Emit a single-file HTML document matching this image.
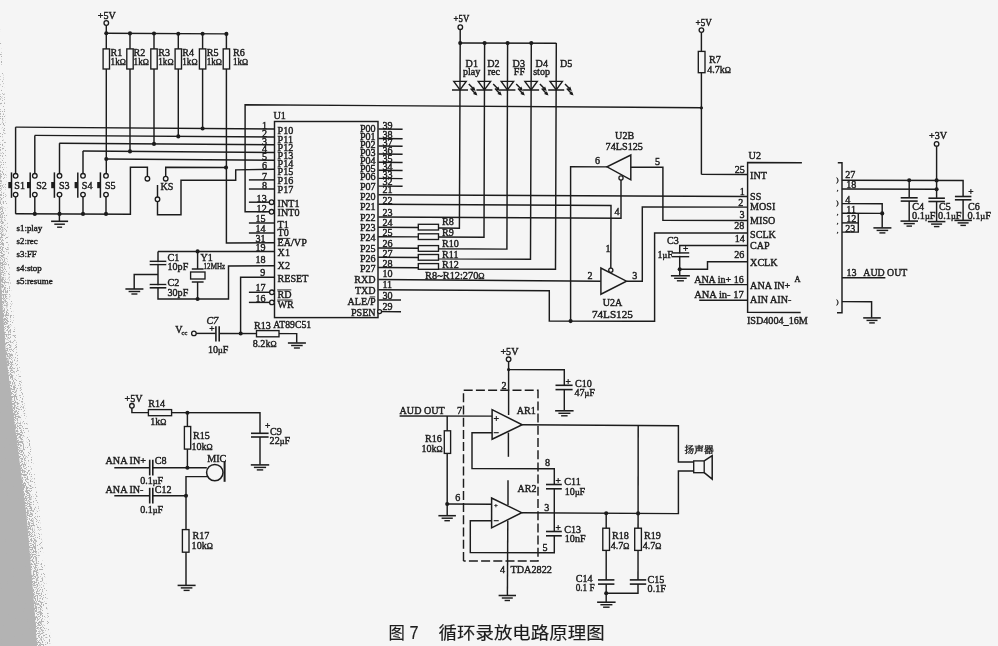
<!DOCTYPE html>
<html lang="zh">
<head>
<meta charset="utf-8">
<title>图7 循环录放电路原理图</title>
<style>
html,body{margin:0;padding:0;background:#f5f5f5;}
body{width:998px;height:646px;overflow:hidden;}
svg{display:block;}
svg text{font-family:"Liberation Serif","Noto Serif CJK SC",serif;fill:#1c1c1c;stroke:#1c1c1c;stroke-width:0.42px;}
</style>
</head>
<body>
<svg width="998" height="646" viewBox="0 0 998 646">
<defs>
<filter id="spk" x="0" y="0" width="100%" height="100%">
<feTurbulence type="fractalNoise" baseFrequency="0.9" numOctaves="2" seed="7" result="n"/>
<feColorMatrix in="n" type="matrix" values="0 0 0 0 0  0 0 0 0 0  0 0 0 0 0  0 0 0 14 -6.9" result="m"/>
<feComposite in="SourceGraphic" in2="m" operator="in"/>
</filter>
<filter id="spk2" x="0" y="0" width="100%" height="100%">
<feTurbulence type="fractalNoise" baseFrequency="0.85" numOctaves="2" seed="23" result="n"/>
<feColorMatrix in="n" type="matrix" values="0 0 0 0 0  0 0 0 0 0  0 0 0 0 0  0 0 0 14 -8.3" result="m"/>
<feComposite in="SourceGraphic" in2="m" operator="in"/>
</filter>
<linearGradient id="edge" x1="0" y1="0" x2="1" y2="0">
<stop offset="0" stop-color="#b2b2b2"/><stop offset="0.75" stop-color="#b2b2b2"/><stop offset="1" stop-color="#b2b2b2" stop-opacity="0"/>
</linearGradient>
</defs>
<rect width="998" height="646" fill="#f5f5f5"/>
<!-- scan shadow on left edge -->
<polygon points="0,255 2,300 6,354 12.5,407 19.5,461 26.5,515 31,568 34.5,610 37,646 0,646" fill="#b3b3b3"/>
<polygon points="0,150 3,220 5,270 8,310 12,354 18.5,407 26,461 33,515 38,568 41.5,610 44,646 0,646" fill="#b3b3b3" filter="url(#spk)"/>
<polygon points="0,28 5,100 7,200 9,260 13,310 18,354 25,407 33,461 40,515 45,568 48.5,610 51,646 0,646" fill="#b3b3b3" filter="url(#spk2)"/>
<g opacity="0.999">
<text font-size="10.3" transform="translate(97.8,18.5) scale(0.98,1)">+5V</text>
<polyline points="106.3,25.0 106.3,173.5" fill="none" stroke="#1c1c1c" stroke-width="1.45" />
<circle cx="106.3" cy="23.0" r="2.3" fill="#f5f5f5" stroke="#1c1c1c" stroke-width="1.3"/>
<polyline points="106.3,33.3 226.4,33.9" fill="none" stroke="#1c1c1c" stroke-width="1.45" />
<polyline points="15.5,127.1 274.5,129.0" fill="none" stroke="#1c1c1c" stroke-width="1.45" />
<polyline points="34.7,135.4 274.5,137.0" fill="none" stroke="#1c1c1c" stroke-width="1.45" />
<polyline points="59.3,143.2 274.5,144.8" fill="none" stroke="#1c1c1c" stroke-width="1.45" />
<polyline points="82.9,151.0 274.5,152.5" fill="none" stroke="#1c1c1c" stroke-width="1.45" />
<polyline points="106.3,159.0 274.5,160.3" fill="none" stroke="#1c1c1c" stroke-width="1.45" />
<polyline points="130.0,33.4 130.0,151.4" fill="none" stroke="#1c1c1c" stroke-width="1.45" />
<circle cx="130.0" cy="151.4" r="2.05" fill="#1c1c1c"/>
<polyline points="154.0,33.4 154.0,143.9" fill="none" stroke="#1c1c1c" stroke-width="1.45" />
<circle cx="154.0" cy="143.9" r="2.05" fill="#1c1c1c"/>
<polyline points="178.3,33.4 178.3,136.4" fill="none" stroke="#1c1c1c" stroke-width="1.45" />
<circle cx="178.3" cy="136.4" r="2.05" fill="#1c1c1c"/>
<polyline points="202.6,33.4 202.6,128.5" fill="none" stroke="#1c1c1c" stroke-width="1.45" />
<circle cx="202.6" cy="128.5" r="2.05" fill="#1c1c1c"/>
<polyline points="226.4,33.9 226.4,243.0 274.5,242.7" fill="none" stroke="#1c1c1c" stroke-width="1.45" />
<circle cx="106.3" cy="33.3" r="2.05" fill="#1c1c1c"/>
<rect x="103.1" y="48.9" width="6.4" height="20.1" fill="#f5f5f5" stroke="#1c1c1c" stroke-width="1.35"/>
<circle cx="130.0" cy="33.4" r="2.05" fill="#1c1c1c"/>
<rect x="126.8" y="48.9" width="6.4" height="20.1" fill="#f5f5f5" stroke="#1c1c1c" stroke-width="1.35"/>
<circle cx="154.0" cy="33.5" r="2.05" fill="#1c1c1c"/>
<rect x="150.8" y="48.9" width="6.4" height="20.1" fill="#f5f5f5" stroke="#1c1c1c" stroke-width="1.35"/>
<circle cx="178.3" cy="33.7" r="2.05" fill="#1c1c1c"/>
<rect x="175.1" y="48.9" width="6.4" height="20.1" fill="#f5f5f5" stroke="#1c1c1c" stroke-width="1.35"/>
<circle cx="202.6" cy="33.8" r="2.05" fill="#1c1c1c"/>
<rect x="199.4" y="48.9" width="6.4" height="20.1" fill="#f5f5f5" stroke="#1c1c1c" stroke-width="1.35"/>
<circle cx="226.4" cy="33.9" r="2.05" fill="#1c1c1c"/>
<rect x="223.2" y="48.9" width="6.4" height="20.1" fill="#f5f5f5" stroke="#1c1c1c" stroke-width="1.35"/>
<text font-size="10.3" transform="translate(110.6,56.1) scale(0.98,1)">R1</text>
<text font-size="9.3" transform="translate(110.6,64.9) scale(0.98,1)">1k<tspan font-size="8.4">Ω</tspan></text>
<text font-size="10.3" transform="translate(133.6,56.1) scale(0.98,1)">R2</text>
<text font-size="9.3" transform="translate(133.6,64.9) scale(0.98,1)">1k<tspan font-size="8.4">Ω</tspan></text>
<text font-size="10.3" transform="translate(158.3,56.1) scale(0.98,1)">R3</text>
<text font-size="9.3" transform="translate(158.3,64.9) scale(0.98,1)">1k<tspan font-size="8.4">Ω</tspan></text>
<text font-size="10.3" transform="translate(182.3,56.1) scale(0.98,1)">R4</text>
<text font-size="9.3" transform="translate(182.3,64.9) scale(0.98,1)">1k<tspan font-size="8.4">Ω</tspan></text>
<text font-size="10.3" transform="translate(206.7,56.1) scale(0.98,1)">R5</text>
<text font-size="9.3" transform="translate(206.7,64.9) scale(0.98,1)">1k<tspan font-size="8.4">Ω</tspan></text>
<text font-size="10.3" transform="translate(233.0,56.1) scale(0.98,1)">R6</text>
<text font-size="9.3" transform="translate(233.0,64.9) scale(0.98,1)">1k<tspan font-size="8.4">Ω</tspan></text>
<circle cx="106.3" cy="159.0" r="2.05" fill="#1c1c1c"/>
<polyline points="15.6,127.1 15.6,173.5" fill="none" stroke="#1c1c1c" stroke-width="1.45" />
<polyline points="15.6,196.8 15.6,213.8" fill="none" stroke="#1c1c1c" stroke-width="1.45" />
<circle cx="15.6" cy="175.8" r="2.3" fill="#f5f5f5" stroke="#1c1c1c" stroke-width="1.3"/>
<circle cx="15.6" cy="194.6" r="2.3" fill="#f5f5f5" stroke="#1c1c1c" stroke-width="1.3"/>
<polyline points="11.5,172.4 11.5,197.8" fill="none" stroke="#1c1c1c" stroke-width="1.5" />
<rect x="8.3" y="182.0" width="3.2" height="6.2" fill="#1c1c1c"/>
<text font-size="10.3" transform="translate(14.3,189.3) scale(0.98,1)">S1</text>
<polyline points="34.8,135.4 34.8,173.5" fill="none" stroke="#1c1c1c" stroke-width="1.45" />
<polyline points="34.8,196.8 34.8,213.8" fill="none" stroke="#1c1c1c" stroke-width="1.45" />
<circle cx="34.8" cy="175.8" r="2.3" fill="#f5f5f5" stroke="#1c1c1c" stroke-width="1.3"/>
<circle cx="34.8" cy="194.6" r="2.3" fill="#f5f5f5" stroke="#1c1c1c" stroke-width="1.3"/>
<polyline points="30.2,172.4 30.2,197.8" fill="none" stroke="#1c1c1c" stroke-width="1.5" />
<rect x="27.0" y="182.0" width="3.2" height="6.2" fill="#1c1c1c"/>
<text font-size="10.3" transform="translate(36.2,189.3) scale(0.98,1)">S2</text>
<polyline points="59.5,143.2 59.5,173.5" fill="none" stroke="#1c1c1c" stroke-width="1.45" />
<polyline points="59.5,196.8 59.5,213.8" fill="none" stroke="#1c1c1c" stroke-width="1.45" />
<circle cx="59.5" cy="175.8" r="2.3" fill="#f5f5f5" stroke="#1c1c1c" stroke-width="1.3"/>
<circle cx="59.5" cy="194.6" r="2.3" fill="#f5f5f5" stroke="#1c1c1c" stroke-width="1.3"/>
<polyline points="54.4,172.4 54.4,197.8" fill="none" stroke="#1c1c1c" stroke-width="1.5" />
<rect x="51.2" y="182.0" width="3.2" height="6.2" fill="#1c1c1c"/>
<text font-size="10.3" transform="translate(58.9,189.3) scale(0.98,1)">S3</text>
<polyline points="83.0,151.0 83.0,173.5" fill="none" stroke="#1c1c1c" stroke-width="1.45" />
<polyline points="83.0,196.8 83.0,213.8" fill="none" stroke="#1c1c1c" stroke-width="1.45" />
<circle cx="83.0" cy="175.8" r="2.3" fill="#f5f5f5" stroke="#1c1c1c" stroke-width="1.3"/>
<circle cx="83.0" cy="194.6" r="2.3" fill="#f5f5f5" stroke="#1c1c1c" stroke-width="1.3"/>
<polyline points="77.8,172.4 77.8,197.8" fill="none" stroke="#1c1c1c" stroke-width="1.5" />
<rect x="74.6" y="182.0" width="3.2" height="6.2" fill="#1c1c1c"/>
<text font-size="10.3" transform="translate(81.8,189.3) scale(0.98,1)">S4</text>
<polyline points="106.0,196.8 106.0,213.8" fill="none" stroke="#1c1c1c" stroke-width="1.45" />
<circle cx="106.0" cy="175.8" r="2.3" fill="#f5f5f5" stroke="#1c1c1c" stroke-width="1.3"/>
<circle cx="106.0" cy="194.6" r="2.3" fill="#f5f5f5" stroke="#1c1c1c" stroke-width="1.3"/>
<polyline points="100.4,172.4 100.4,197.8" fill="none" stroke="#1c1c1c" stroke-width="1.5" />
<rect x="97.2" y="182.0" width="3.2" height="6.2" fill="#1c1c1c"/>
<text font-size="10.3" transform="translate(104.9,189.3) scale(0.98,1)">S5</text>
<polyline points="15.5,213.8 130.4,214.2 130.4,167.2 147.4,167.2 147.4,176.5" fill="none" stroke="#1c1c1c" stroke-width="1.45" />
<circle cx="34.8" cy="213.9" r="2.05" fill="#1c1c1c"/>
<circle cx="59.5" cy="213.9" r="2.05" fill="#1c1c1c"/>
<circle cx="83.0" cy="213.9" r="2.05" fill="#1c1c1c"/>
<circle cx="106.0" cy="213.9" r="2.05" fill="#1c1c1c"/>
<polyline points="59.4,214.0 59.4,221.2" fill="none" stroke="#1c1c1c" stroke-width="1.45" />
<polyline points="51.1,221.3 68.1,221.3" fill="none" stroke="#1c1c1c" stroke-width="1.55" />
<polyline points="54.3,224.2 64.9,224.2" fill="none" stroke="#1c1c1c" stroke-width="1.45" />
<polyline points="57.1,227.2 62.1,227.2" fill="none" stroke="#1c1c1c" stroke-width="1.4" />
<circle cx="147.4" cy="178.7" r="2.3" fill="#f5f5f5" stroke="#1c1c1c" stroke-width="1.3"/>
<polyline points="165.7,176.5 165.7,167.3 225.9,167.5" fill="none" stroke="#1c1c1c" stroke-width="1.45" />
<circle cx="165.7" cy="178.7" r="2.3" fill="#f5f5f5" stroke="#1c1c1c" stroke-width="1.3"/>
<circle cx="226.0" cy="167.5" r="2.05" fill="#1c1c1c"/>
<polyline points="157.5,185.0 157.5,197.2" fill="none" stroke="#1c1c1c" stroke-width="1.45" />
<polyline points="157.5,201.5 157.5,214.8 181.0,214.8 181.0,180.2 235.7,180.2 235.7,169.9 274.5,169.2" fill="none" stroke="#1c1c1c" stroke-width="1.45" />
<circle cx="157.5" cy="199.3" r="2.3" fill="#f5f5f5" stroke="#1c1c1c" stroke-width="1.3"/>
<text font-size="10.3" transform="translate(160.5,189.8) scale(0.98,1)">KS</text>
<text font-size="9.1" transform="translate(16.5,230.9) scale(0.98,1)">s1:play</text>
<text font-size="9.1" transform="translate(16.5,244.2) scale(0.98,1)">s2:rec</text>
<text font-size="9.1" transform="translate(16.5,257.4) scale(0.98,1)">s3:FF</text>
<text font-size="9.1" transform="translate(16.5,270.7) scale(0.98,1)">s4:stop</text>
<text font-size="9.1" transform="translate(16.5,283.9) scale(0.98,1)">s5:resume</text>
<rect x="274.5" y="121.5" width="103.5" height="196.1" fill="none" stroke="#1c1c1c" stroke-width="1.45"/>
<text font-size="10.3" transform="translate(273.5,118.7) scale(0.98,1)">U1</text>
<text font-size="10.3" x="273.3" y="327.6" textLength="37.8" lengthAdjust="spacingAndGlyphs">AT89C51</text>
<polyline points="248.9,179.9 274.5,179.9" fill="none" stroke="#1c1c1c" stroke-width="1.45" />
<polyline points="248.9,189.0 274.5,189.0" fill="none" stroke="#1c1c1c" stroke-width="1.45" />
<polyline points="248.9,223.0 274.5,223.0" fill="none" stroke="#1c1c1c" stroke-width="1.45" />
<polyline points="248.9,233.0 274.5,233.0" fill="none" stroke="#1c1c1c" stroke-width="1.45" />
<polyline points="248.9,202.2 269.3,202.2" fill="none" stroke="#1c1c1c" stroke-width="1.45" />
<circle cx="271.6" cy="202.2" r="2.3" fill="#f5f5f5" stroke="#1c1c1c" stroke-width="1.3"/>
<polyline points="701.4,107.8 245.1,104.7 245.1,211.8 269.3,211.8" fill="none" stroke="#1c1c1c" stroke-width="1.45" />
<circle cx="271.6" cy="211.8" r="2.3" fill="#f5f5f5" stroke="#1c1c1c" stroke-width="1.3"/>
<polyline points="248.9,292.3 269.6,292.3" fill="none" stroke="#1c1c1c" stroke-width="1.45" />
<circle cx="271.9" cy="292.3" r="2.3" fill="#f5f5f5" stroke="#1c1c1c" stroke-width="1.3"/>
<polyline points="248.9,302.4 269.6,302.4" fill="none" stroke="#1c1c1c" stroke-width="1.45" />
<circle cx="271.9" cy="302.4" r="2.3" fill="#f5f5f5" stroke="#1c1c1c" stroke-width="1.3"/>
<polyline points="158.0,251.4 274.5,251.5" fill="none" stroke="#1c1c1c" stroke-width="1.45" />
<polyline points="274.5,265.8 228.5,265.9 228.5,299.0 158.0,299.0 158.0,251.4" fill="none" stroke="#1c1c1c" stroke-width="1.45" />
<polyline points="274.5,277.3 240.6,277.3 240.6,333.5" fill="none" stroke="#1c1c1c" stroke-width="1.45" />
<text font-size="10.3" transform="translate(277.6,134.3) scale(0.98,1)">P10</text>
<text font-size="10.3" transform="translate(277.6,142.5) scale(0.98,1)">P11</text>
<text font-size="10.3" transform="translate(277.6,150.5) scale(0.98,1)">P12</text>
<text font-size="10.3" transform="translate(277.6,158.5) scale(0.98,1)">P13</text>
<text font-size="10.3" transform="translate(277.6,166.8) scale(0.98,1)">P14</text>
<text font-size="10.3" transform="translate(277.6,174.9) scale(0.98,1)">P15</text>
<text font-size="10.3" transform="translate(277.6,183.8) scale(0.98,1)">P16</text>
<text font-size="10.3" transform="translate(277.6,193.1) scale(0.98,1)">P17</text>
<text font-size="10.3" transform="translate(277.6,206.5) scale(0.98,1)">INT1</text>
<text font-size="10.3" transform="translate(277.6,215.9) scale(0.98,1)">INT0</text>
<text font-size="10.3" transform="translate(277.6,227.8) scale(0.98,1)">T1</text>
<text font-size="10.3" transform="translate(277.6,236.3) scale(0.98,1)">T0</text>
<text font-size="10.3" transform="translate(277.6,246.2) scale(0.98,1)">EA/VP</text>
<text font-size="10.3" transform="translate(277.6,255.5) scale(0.98,1)">X1</text>
<text font-size="10.3" transform="translate(277.6,269.3) scale(0.98,1)">X2</text>
<text font-size="10.3" transform="translate(277.6,281.9) scale(0.98,1)">RESET</text>
<text font-size="10.3" transform="translate(277.6,298.1) scale(0.98,1)">RD</text>
<text font-size="10.3" transform="translate(277.6,307.7) scale(0.98,1)">WR</text>
<polyline points="277.8,238.4 290.3,238.4" fill="none" stroke="#1c1c1c" stroke-width="0.9" />
<polyline points="277.2,289.9 291.3,289.9" fill="none" stroke="#1c1c1c" stroke-width="0.9" />
<polyline points="277.2,300.0 292.5,300.0" fill="none" stroke="#1c1c1c" stroke-width="0.9" />
<text font-size="10.3" transform="translate(262.1,128.8) scale(0.98,1)">1</text>
<text font-size="10.3" transform="translate(262.1,136.9) scale(0.98,1)">2</text>
<text font-size="10.3" transform="translate(262.1,144.7) scale(0.98,1)">3</text>
<text font-size="10.3" transform="translate(262.1,152.4) scale(0.98,1)">4</text>
<text font-size="10.3" transform="translate(262.1,160.2) scale(0.98,1)">5</text>
<text font-size="10.3" transform="translate(262.1,168.9) scale(0.98,1)">6</text>
<text font-size="10.3" transform="translate(262.1,179.8) scale(0.98,1)">7</text>
<text font-size="10.3" transform="translate(262.1,188.9) scale(0.98,1)">8</text>
<text font-size="10.3" transform="translate(256.6,202.0) scale(0.98,1)">13</text>
<text font-size="10.3" transform="translate(256.6,211.7) scale(0.98,1)">12</text>
<text font-size="10.3" transform="translate(255.4,222.0) scale(0.98,1)">15</text>
<text font-size="10.3" transform="translate(255.4,232.0) scale(0.98,1)">14</text>
<text font-size="10.3" transform="translate(255.4,241.9) scale(0.98,1)">31</text>
<text font-size="10.3" transform="translate(255.4,250.9) scale(0.98,1)">19</text>
<text font-size="10.3" transform="translate(255.4,263.4) scale(0.98,1)">18</text>
<text font-size="10.3" transform="translate(260.3,276.4) scale(0.98,1)">9</text>
<text font-size="10.3" transform="translate(255.4,290.7) scale(0.98,1)">17</text>
<text font-size="10.3" transform="translate(255.4,301.9) scale(0.98,1)">16</text>
<polyline points="378.5,129.0 402.6,129.2" fill="none" stroke="#1c1c1c" stroke-width="1.45" />
<polyline points="378.5,138.5 402.6,138.7" fill="none" stroke="#1c1c1c" stroke-width="1.45" />
<polyline points="378.5,146.0 402.6,146.2" fill="none" stroke="#1c1c1c" stroke-width="1.45" />
<polyline points="378.5,154.0 402.6,154.2" fill="none" stroke="#1c1c1c" stroke-width="1.45" />
<polyline points="378.5,162.3 402.6,162.5" fill="none" stroke="#1c1c1c" stroke-width="1.45" />
<polyline points="378.5,170.3 402.6,170.5" fill="none" stroke="#1c1c1c" stroke-width="1.45" />
<polyline points="378.5,178.4 402.6,178.6" fill="none" stroke="#1c1c1c" stroke-width="1.45" />
<polyline points="378.5,186.1 402.6,186.3" fill="none" stroke="#1c1c1c" stroke-width="1.45" />
<polyline points="378.5,299.9 401.0,300.0" fill="none" stroke="#1c1c1c" stroke-width="1.45" />
<polyline points="381.3,311.6 401.0,311.7" fill="none" stroke="#1c1c1c" stroke-width="1.45" />
<circle cx="379.6" cy="311.6" r="2.0" fill="#f5f5f5" stroke="#1c1c1c" stroke-width="1.3"/>
<text font-size="10.3" transform="translate(375.6,131.8) scale(0.98,1)" text-anchor="end">P00</text>
<text font-size="10.3" transform="translate(375.6,139.7) scale(0.98,1)" text-anchor="end">P01</text>
<text font-size="10.3" transform="translate(375.6,147.5) scale(0.98,1)" text-anchor="end">P02</text>
<text font-size="10.3" transform="translate(375.6,155.6) scale(0.98,1)" text-anchor="end">P03</text>
<text font-size="10.3" transform="translate(375.6,163.7) scale(0.98,1)" text-anchor="end">P04</text>
<text font-size="10.3" transform="translate(375.6,171.9) scale(0.98,1)" text-anchor="end">P05</text>
<text font-size="10.3" transform="translate(375.6,180.2) scale(0.98,1)" text-anchor="end">P06</text>
<text font-size="10.3" transform="translate(375.6,189.6) scale(0.98,1)" text-anchor="end">P07</text>
<text font-size="10.3" transform="translate(375.6,199.9) scale(0.98,1)" text-anchor="end">P20</text>
<text font-size="10.3" transform="translate(375.6,209.9) scale(0.98,1)" text-anchor="end">P21</text>
<text font-size="10.3" transform="translate(375.6,221.3) scale(0.98,1)" text-anchor="end">P22</text>
<text font-size="10.3" transform="translate(375.6,230.7) scale(0.98,1)" text-anchor="end">P23</text>
<text font-size="10.3" transform="translate(375.6,241.2) scale(0.98,1)" text-anchor="end">P24</text>
<text font-size="10.3" transform="translate(375.6,251.8) scale(0.98,1)" text-anchor="end">P25</text>
<text font-size="10.3" transform="translate(375.6,261.8) scale(0.98,1)" text-anchor="end">P26</text>
<text font-size="10.3" transform="translate(375.6,271.8) scale(0.98,1)" text-anchor="end">P27</text>
<text font-size="10.3" transform="translate(375.6,283.2) scale(0.98,1)" text-anchor="end">RXD</text>
<text font-size="10.3" transform="translate(375.6,293.6) scale(0.98,1)" text-anchor="end">TXD</text>
<text font-size="10.3" transform="translate(375.6,304.9) scale(0.98,1)" text-anchor="end">ALE/P</text>
<text font-size="10.3" transform="translate(375.6,315.7) scale(0.98,1)" text-anchor="end">PSEN</text>
<polyline points="369.8,296.9 375.2,296.9" fill="none" stroke="#1c1c1c" stroke-width="0.9" />
<text font-size="10.3" transform="translate(382.4,129.1) scale(0.98,1)">39</text>
<text font-size="10.3" transform="translate(382.4,137.9) scale(0.98,1)">38</text>
<text font-size="10.3" transform="translate(382.4,146.1) scale(0.98,1)">37</text>
<text font-size="10.3" transform="translate(382.4,153.7) scale(0.98,1)">36</text>
<text font-size="10.3" transform="translate(382.4,162.0) scale(0.98,1)">35</text>
<text font-size="10.3" transform="translate(382.4,170.0) scale(0.98,1)">34</text>
<text font-size="10.3" transform="translate(382.4,177.5) scale(0.98,1)">33</text>
<text font-size="10.3" transform="translate(382.4,185.1) scale(0.98,1)">32</text>
<text font-size="10.3" transform="translate(382.4,193.3) scale(0.98,1)">21</text>
<text font-size="10.3" transform="translate(382.4,203.8) scale(0.98,1)">22</text>
<text font-size="10.3" transform="translate(382.4,215.9) scale(0.98,1)">23</text>
<text font-size="10.3" transform="translate(382.4,225.9) scale(0.98,1)">24</text>
<text font-size="10.3" transform="translate(382.4,236.4) scale(0.98,1)">25</text>
<text font-size="10.3" transform="translate(382.4,246.5) scale(0.98,1)">26</text>
<text font-size="10.3" transform="translate(382.4,256.5) scale(0.98,1)">27</text>
<text font-size="10.3" transform="translate(382.4,267.1) scale(0.98,1)">28</text>
<text font-size="10.3" transform="translate(382.4,277.1) scale(0.98,1)">10</text>
<text font-size="10.3" transform="translate(382.4,287.7) scale(0.98,1)">11</text>
<text font-size="10.3" transform="translate(382.4,299.0) scale(0.98,1)">30</text>
<text font-size="10.3" transform="translate(382.4,309.7) scale(0.98,1)">29</text>
<polyline points="378.2,227.3 418.4,227.5 438.4,228.0 459.4,228.3 460.2,43.1" fill="none" stroke="#1c1c1c" stroke-width="1.45" />
<rect x="418.3" y="224.3" width="20.2" height="5.7" fill="#f5f5f5" stroke="#1c1c1c" stroke-width="1.35"/>
<polyline points="378.2,236.7 418.4,236.9 438.4,236.9 484.0,237.2 484.6,43.1" fill="none" stroke="#1c1c1c" stroke-width="1.45" />
<rect x="418.3" y="233.8" width="20.2" height="5.7" fill="#f5f5f5" stroke="#1c1c1c" stroke-width="1.35"/>
<polyline points="378.2,248.0 418.4,248.2 438.4,248.8 506.9,249.1 507.6,43.1" fill="none" stroke="#1c1c1c" stroke-width="1.45" />
<rect x="418.3" y="245.6" width="20.2" height="5.7" fill="#f5f5f5" stroke="#1c1c1c" stroke-width="1.35"/>
<polyline points="378.2,257.2 418.4,257.4 438.4,258.9 530.5,259.2 531.3,43.1" fill="none" stroke="#1c1c1c" stroke-width="1.45" />
<rect x="418.3" y="254.5" width="20.2" height="5.7" fill="#f5f5f5" stroke="#1c1c1c" stroke-width="1.35"/>
<polyline points="378.2,267.5 418.4,267.7 438.4,269.0 555.5,269.3 556.3,43.1" fill="none" stroke="#1c1c1c" stroke-width="1.45" />
<rect x="418.3" y="263.6" width="20.2" height="5.7" fill="#f5f5f5" stroke="#1c1c1c" stroke-width="1.35"/>
<text font-size="10.3" transform="translate(442.0,225.1) scale(0.98,1)">R8</text>
<text font-size="10.3" transform="translate(442.0,236.1) scale(0.98,1)">R9</text>
<text font-size="10.3" transform="translate(442.0,246.5) scale(0.98,1)">R10</text>
<text font-size="10.3" transform="translate(442.0,257.5) scale(0.98,1)">R11</text>
<text font-size="10.3" transform="translate(442.0,267.6) scale(0.98,1)">R12</text>
<text font-size="10.3" x="425.1" y="278.5" textLength="59.5" lengthAdjust="spacingAndGlyphs">R8~R12:270<tspan font-size="8.4">Ω</tspan></text>
<text font-size="9.4" x="453.6" y="22.4" textLength="15.6" lengthAdjust="spacingAndGlyphs">+5V</text>
<polyline points="460.2,29.3 460.2,43.1" fill="none" stroke="#1c1c1c" stroke-width="1.45" />
<circle cx="460.3" cy="27.2" r="2.3" fill="#f5f5f5" stroke="#1c1c1c" stroke-width="1.3"/>
<polyline points="460.0,43.0 556.3,43.3" fill="none" stroke="#1c1c1c" stroke-width="1.45" />
<circle cx="460.2" cy="43.1" r="2.05" fill="#1c1c1c"/>
<circle cx="484.6" cy="43.1" r="2.05" fill="#1c1c1c"/>
<circle cx="507.6" cy="43.1" r="2.05" fill="#1c1c1c"/>
<circle cx="531.3" cy="43.1" r="2.05" fill="#1c1c1c"/>
<polygon points="453.8,81.4 466.2,81.4 460.0,89.8" fill="#f5f5f5" stroke="#1c1c1c" stroke-width="1.4"/>
<polyline points="460.0,81.4 460.0,89.8" fill="none" stroke="#1c1c1c" stroke-width="1.45" />
<polyline points="452.0,90.0 468.0,90.0" fill="none" stroke="#1c1c1c" stroke-width="1.5" />
<polyline points="468.8,84.0 474.4,89.8" fill="none" stroke="#1c1c1c" stroke-width="1.45" />
<polygon points="475.6,91.0 471.2,89.4 474.0,86.6" fill="#1c1c1c"/>
<polyline points="470.6,88.6 476.2,94.4" fill="none" stroke="#1c1c1c" stroke-width="1.45" />
<polygon points="477.4,95.6 473.0,94.0 475.8,91.2" fill="#1c1c1c"/>
<polygon points="478.2,81.4 490.6,81.4 484.4,89.8" fill="#f5f5f5" stroke="#1c1c1c" stroke-width="1.4"/>
<polyline points="484.4,81.4 484.4,89.8" fill="none" stroke="#1c1c1c" stroke-width="1.45" />
<polyline points="476.4,90.0 492.4,90.0" fill="none" stroke="#1c1c1c" stroke-width="1.5" />
<polyline points="493.2,84.0 498.8,89.8" fill="none" stroke="#1c1c1c" stroke-width="1.45" />
<polygon points="500.0,91.0 495.6,89.4 498.4,86.6" fill="#1c1c1c"/>
<polyline points="495.0,88.6 500.6,94.4" fill="none" stroke="#1c1c1c" stroke-width="1.45" />
<polygon points="501.8,95.6 497.4,94.0 500.2,91.2" fill="#1c1c1c"/>
<polygon points="501.2,81.4 513.6,81.4 507.4,89.8" fill="#f5f5f5" stroke="#1c1c1c" stroke-width="1.4"/>
<polyline points="507.4,81.4 507.4,89.8" fill="none" stroke="#1c1c1c" stroke-width="1.45" />
<polyline points="499.4,90.0 515.4,90.0" fill="none" stroke="#1c1c1c" stroke-width="1.5" />
<polyline points="516.2,84.0 521.8,89.8" fill="none" stroke="#1c1c1c" stroke-width="1.45" />
<polygon points="523.0,91.0 518.6,89.4 521.4,86.6" fill="#1c1c1c"/>
<polyline points="518.0,88.6 523.6,94.4" fill="none" stroke="#1c1c1c" stroke-width="1.45" />
<polygon points="524.8,95.6 520.4,94.0 523.2,91.2" fill="#1c1c1c"/>
<polygon points="524.9,81.4 537.3,81.4 531.1,89.8" fill="#f5f5f5" stroke="#1c1c1c" stroke-width="1.4"/>
<polyline points="531.1,81.4 531.1,89.8" fill="none" stroke="#1c1c1c" stroke-width="1.45" />
<polyline points="523.1,90.0 539.1,90.0" fill="none" stroke="#1c1c1c" stroke-width="1.5" />
<polyline points="539.9,84.0 545.5,89.8" fill="none" stroke="#1c1c1c" stroke-width="1.45" />
<polygon points="546.7,91.0 542.3,89.4 545.1,86.6" fill="#1c1c1c"/>
<polyline points="541.7,88.6 547.3,94.4" fill="none" stroke="#1c1c1c" stroke-width="1.45" />
<polygon points="548.5,95.6 544.1,94.0 546.9,91.2" fill="#1c1c1c"/>
<polygon points="550.0,81.4 562.4,81.4 556.2,89.8" fill="#f5f5f5" stroke="#1c1c1c" stroke-width="1.4"/>
<polyline points="556.2,81.4 556.2,89.8" fill="none" stroke="#1c1c1c" stroke-width="1.45" />
<polyline points="548.2,90.0 564.2,90.0" fill="none" stroke="#1c1c1c" stroke-width="1.5" />
<polyline points="565.0,84.0 570.6,89.8" fill="none" stroke="#1c1c1c" stroke-width="1.45" />
<polygon points="571.8,91.0 567.4,89.4 570.2,86.6" fill="#1c1c1c"/>
<polyline points="566.8,88.6 572.4,94.4" fill="none" stroke="#1c1c1c" stroke-width="1.45" />
<polygon points="573.6,95.6 569.2,94.0 572.0,91.2" fill="#1c1c1c"/>
<text font-size="10.3" transform="translate(465.6,66.8) scale(0.98,1)">D1</text>
<text font-size="10.3" transform="translate(463.0,75.1) scale(0.98,1)">play</text>
<text font-size="10.3" transform="translate(487.2,66.8) scale(0.98,1)">D2</text>
<text font-size="10.3" transform="translate(487.7,75.1) scale(0.98,1)">rec</text>
<text font-size="10.3" transform="translate(512.6,66.8) scale(0.98,1)">D3</text>
<text font-size="10.3" transform="translate(513.8,75.1) scale(0.98,1)">FF</text>
<text font-size="10.3" transform="translate(535.6,66.8) scale(0.98,1)">D4</text>
<text font-size="10.3" transform="translate(533.2,75.1) scale(0.98,1)">stop</text>
<text font-size="10.3" transform="translate(560.0,66.8) scale(0.98,1)">D5</text>
<text font-size="9.6" x="695.6" y="26.3" textLength="16.2" lengthAdjust="spacingAndGlyphs">+5V</text>
<polyline points="701.4,32.2 701.4,174.4" fill="none" stroke="#1c1c1c" stroke-width="1.45" />
<circle cx="701.4" cy="30.1" r="2.3" fill="#f5f5f5" stroke="#1c1c1c" stroke-width="1.3"/>
<rect x="698.3" y="51.4" width="6.7" height="21.3" fill="#f5f5f5" stroke="#1c1c1c" stroke-width="1.35"/>
<text font-size="10.3" transform="translate(709.0,63.1) scale(0.98,1)">R7</text>
<text font-size="10.3" transform="translate(707.2,72.6) scale(0.98,1)">4.7k<tspan font-size="8.4">Ω</tspan></text>
<circle cx="701.4" cy="107.8" r="1.6" fill="#1c1c1c"/>
<polyline points="701.4,174.4 747.6,174.5" fill="none" stroke="#1c1c1c" stroke-width="1.45" />
<polyline points="149.7,261.4 166.3,261.4" fill="none" stroke="#1c1c1c" stroke-width="1.6" />
<polyline points="149.7,264.5 166.3,264.5" fill="none" stroke="#1c1c1c" stroke-width="1.6" />
<polyline points="149.7,284.6 166.3,284.6" fill="none" stroke="#1c1c1c" stroke-width="1.6" />
<polyline points="149.7,287.8 166.3,287.8" fill="none" stroke="#1c1c1c" stroke-width="1.6" />
<rect x="150" y="262.2" width="16" height="1.6" fill="#f5f5f5"/><rect x="150" y="285.4" width="16" height="1.6" fill="#f5f5f5"/>
<polyline points="158.0,274.5 134.2,274.5 134.2,289.0" fill="none" stroke="#1c1c1c" stroke-width="1.45" />
<polyline points="125.4,289.0 143.4,289.0" fill="none" stroke="#1c1c1c" stroke-width="1.55" />
<polyline points="128.6,291.5 140.2,291.5" fill="none" stroke="#1c1c1c" stroke-width="1.45" />
<polyline points="131.4,294.0 137.4,294.0" fill="none" stroke="#1c1c1c" stroke-width="1.4" />
<text font-size="10.3" transform="translate(167.5,260.8) scale(0.98,1)">C1</text>
<text font-size="10.3" transform="translate(167.5,270.3) scale(0.98,1)">10pF</text>
<text font-size="10.3" transform="translate(167.5,286.1) scale(0.98,1)">C2</text>
<text font-size="10.3" transform="translate(167.5,296.1) scale(0.98,1)">30pF</text>
<polyline points="197.6,251.4 197.6,269.0" fill="none" stroke="#1c1c1c" stroke-width="1.45" />
<polyline points="197.6,282.0 197.6,299.0" fill="none" stroke="#1c1c1c" stroke-width="1.45" />
<polyline points="191.8,269.0 203.6,269.0" fill="none" stroke="#1c1c1c" stroke-width="1.5" />
<polyline points="191.8,282.0 203.6,282.0" fill="none" stroke="#1c1c1c" stroke-width="1.5" />
<rect x="190.6" y="272.0" width="14.4" height="7.0" fill="#f5f5f5" stroke="#1c1c1c" stroke-width="1.35"/>
<circle cx="197.6" cy="251.4" r="2.05" fill="#1c1c1c"/>
<circle cx="197.6" cy="299.0" r="2.05" fill="#1c1c1c"/>
<text font-size="10.3" transform="translate(200.5,260.7) scale(0.98,1)">Y1</text>
<text font-size="8.4" x="203.6" y="269.3" textLength="21.5" lengthAdjust="spacingAndGlyphs">12MHz</text>
<text font-size="10.3" transform="translate(175.2,332.8) scale(0.98,1)">V</text>
<text font-size="6.5" transform="translate(181.6,334.9) scale(0.98,1)">cc</text>
<polyline points="196.0,333.4 215.7,333.4" fill="none" stroke="#1c1c1c" stroke-width="1.45" />
<circle cx="193.9" cy="333.4" r="2.3" fill="#f5f5f5" stroke="#1c1c1c" stroke-width="1.3"/>
<polyline points="215.9,326.3 215.9,341.5" fill="none" stroke="#1c1c1c" stroke-width="1.6" />
<polyline points="219.2,326.3 219.2,341.5" fill="none" stroke="#1c1c1c" stroke-width="1.6" />
<polyline points="219.2,333.5 296.7,333.6 296.7,342.8" fill="none" stroke="#1c1c1c" stroke-width="1.45" />
<circle cx="240.7" cy="333.5" r="2.05" fill="#1c1c1c"/>
<rect x="256.5" y="330.6" width="22.5" height="6.2" fill="#f5f5f5" stroke="#1c1c1c" stroke-width="1.35"/>
<polyline points="287.9,343.0 305.9,343.0" fill="none" stroke="#1c1c1c" stroke-width="1.55" />
<polyline points="291.1,345.5 302.7,345.5" fill="none" stroke="#1c1c1c" stroke-width="1.45" />
<polyline points="293.9,348.0 299.9,348.0" fill="none" stroke="#1c1c1c" stroke-width="1.4" />
<text font-size="10.3" transform="translate(206.4,323.9) scale(0.98,1)"><tspan font-style="italic">C7</tspan></text>
<text font-size="9.6" transform="translate(209.2,331.7) scale(0.98,1)">+</text>
<text font-size="10.3" transform="translate(208.0,352.5) scale(0.98,1)">10<tspan font-size="8.4">µ</tspan>F</text>
<text font-size="10.3" transform="translate(254.0,328.9) scale(0.98,1)">R13</text>
<text font-size="10.3" transform="translate(252.8,346.7) scale(0.98,1)">8.2k<tspan font-size="8.4">Ω</tspan></text>
<polyline points="378.5,194.7 747.6,196.5" fill="none" stroke="#1c1c1c" stroke-width="1.45" />
<polyline points="378.5,204.3 611.0,205.5 610.8,268.2" fill="none" stroke="#1c1c1c" stroke-width="1.45" />
<polyline points="378.5,217.0 621.0,218.3 621.0,180.0" fill="none" stroke="#1c1c1c" stroke-width="1.45" />
<polyline points="378.5,279.5 600.9,281.2" fill="none" stroke="#1c1c1c" stroke-width="1.45" />
<polyline points="378.5,289.8 549.3,290.8 549.3,321.1 654.6,321.3 654.6,232.9 747.6,233.0" fill="none" stroke="#1c1c1c" stroke-width="1.45" />
<polyline points="607.0,166.9 570.6,166.8 570.6,321.1" fill="none" stroke="#1c1c1c" stroke-width="1.45" />
<circle cx="570.6" cy="321.1" r="2.05" fill="#1c1c1c"/>
<polygon points="630.8,155.0 630.8,179.8 607.0,166.9" fill="#f5f5f5" stroke="#1c1c1c" stroke-width="1.45"/>
<circle cx="621.0" cy="178.0" r="2.1" fill="#f5f5f5" stroke="#1c1c1c" stroke-width="1.3"/>
<polyline points="630.8,167.2 662.9,167.2 662.9,220.3 747.6,220.4" fill="none" stroke="#1c1c1c" stroke-width="1.45" />
<polygon points="600.9,268.0 600.9,294.2 626.5,281.2" fill="#f5f5f5" stroke="#1c1c1c" stroke-width="1.45"/>
<circle cx="610.8" cy="270.3" r="2.1" fill="#f5f5f5" stroke="#1c1c1c" stroke-width="1.3"/>
<polyline points="626.5,281.2 642.3,281.2 642.3,207.0 747.6,207.1" fill="none" stroke="#1c1c1c" stroke-width="1.45" />
<text font-size="10.3" transform="translate(615.1,138.7) scale(0.98,1)">U2B</text>
<text font-size="10.3" x="605.6" y="149.5" textLength="37.3" lengthAdjust="spacingAndGlyphs">74LS125</text>
<text font-size="10.3" x="602.7" y="306.1" textLength="19.5" lengthAdjust="spacingAndGlyphs">U2A</text>
<text font-size="10.3" x="591.9" y="317.6" textLength="41.0" lengthAdjust="spacingAndGlyphs">74LS125</text>
<text font-size="10.3" transform="translate(595.0,164.2) scale(0.98,1)">6</text>
<text font-size="10.3" transform="translate(655.0,165.3) scale(0.98,1)">5</text>
<text font-size="10.3" transform="translate(614.5,215.3) scale(0.98,1)">4</text>
<text font-size="10.3" transform="translate(605.6,252.4) scale(0.98,1)">1</text>
<text font-size="10.3" transform="translate(587.6,279.3) scale(0.98,1)">2</text>
<text font-size="10.3" transform="translate(632.2,279.3) scale(0.98,1)">3</text>
<polyline points="801.9,162.7 747.6,162.5 747.6,312.2 800.7,312.4" fill="none" stroke="#1c1c1c" stroke-width="1.45" />
<text font-size="10.3" transform="translate(748.6,159.2) scale(0.98,1)">U2</text>
<text font-size="10.3" transform="translate(750.1,178.5) scale(0.98,1)">INT</text>
<text font-size="10.3" transform="translate(750.1,199.9) scale(0.98,1)">SS</text>
<text font-size="10.3" transform="translate(750.1,210.1) scale(0.98,1)">MOSI</text>
<text font-size="10.3" transform="translate(750.1,224.4) scale(0.98,1)">MISO</text>
<text font-size="10.3" transform="translate(750.1,237.7) scale(0.98,1)">SCLK</text>
<text font-size="10.3" transform="translate(750.1,249.0) scale(0.98,1)">CAP</text>
<text font-size="10.3" transform="translate(750.1,266.3) scale(0.98,1)">XCLK</text>
<text font-size="10.3" transform="translate(750.1,288.5) scale(0.98,1)">ANA IN+</text>
<text font-size="10.3" transform="translate(750.1,303.1) scale(0.98,1)">AIN AIN-</text>
<text font-size="8.5" transform="translate(794.4,281.7) scale(0.98,1)">A</text>
<text font-size="10.3" x="746.9" y="324.3" textLength="61.0" lengthAdjust="spacingAndGlyphs">ISD4004_16M</text>
<text font-size="10.3" transform="translate(734.8,173.0) scale(0.98,1)">25</text>
<text font-size="10.3" transform="translate(739.8,194.8) scale(0.98,1)">1</text>
<text font-size="10.3" transform="translate(738.2,205.6) scale(0.98,1)">2</text>
<text font-size="10.3" transform="translate(739.4,217.6) scale(0.98,1)">3</text>
<text font-size="10.3" transform="translate(734.3,229.4) scale(0.98,1)">28</text>
<text font-size="10.3" transform="translate(734.8,242.4) scale(0.98,1)">14</text>
<text font-size="10.3" transform="translate(734.3,258.2) scale(0.98,1)">26</text>
<polyline points="747.6,245.4 679.7,245.4 679.7,269.3" fill="none" stroke="#1c1c1c" stroke-width="1.45" />
<polyline points="671.6,253.0 689.2,253.0" fill="none" stroke="#1c1c1c" stroke-width="1.6" />
<polyline points="671.6,256.6 689.2,256.6" fill="none" stroke="#1c1c1c" stroke-width="1.6" />
<rect x="672" y="253.8" width="17" height="2.0" fill="#f5f5f5"/>
<polyline points="747.6,261.7 707.5,261.7 707.5,269.3 679.7,269.3 679.7,275.6" fill="none" stroke="#1c1c1c" stroke-width="1.45" />
<circle cx="679.7" cy="269.3" r="2.05" fill="#1c1c1c"/>
<polyline points="670.9,275.8 689.9,275.8" fill="none" stroke="#1c1c1c" stroke-width="1.55" />
<polyline points="674.1,278.3 686.7,278.3" fill="none" stroke="#1c1c1c" stroke-width="1.45" />
<polyline points="676.9,280.8 683.9,280.8" fill="none" stroke="#1c1c1c" stroke-width="1.4" />
<text font-size="10.3" transform="translate(667.1,243.7) scale(0.98,1)">C3</text>
<text font-size="10.3" transform="translate(657.4,257.9) scale(0.98,1)">1<tspan font-size="8.4">µ</tspan>F</text>
<text font-size="9.6" transform="translate(683.0,251.5) scale(0.98,1)">+</text>
<text font-size="10.3" x="694.2" y="283.0" textLength="49.5" lengthAdjust="spacingAndGlyphs">ANA in+ 16</text>
<polyline points="699.2,284.6 747.6,284.6" fill="none" stroke="#1c1c1c" stroke-width="1.45" />
<text font-size="10.3" x="694.2" y="298.1" textLength="49.5" lengthAdjust="spacingAndGlyphs">ANA in- 17</text>
<polyline points="699.2,300.3 747.6,300.3" fill="none" stroke="#1c1c1c" stroke-width="1.45" />
<polyline points="837.8,162.7 842.0,162.7 842.0,312.8 837.0,312.8" fill="none" stroke="#1c1c1c" stroke-width="1.45" />
<polyline points="842.0,180.2 963.1,180.5 963.1,196.5" fill="none" stroke="#1c1c1c" stroke-width="1.45" />
<polyline points="842.0,189.0 936.6,189.2" fill="none" stroke="#1c1c1c" stroke-width="1.45" />
<polyline points="842.0,203.6 882.2,203.7 882.2,227.8" fill="none" stroke="#1c1c1c" stroke-width="1.45" />
<polyline points="842.0,213.3 882.2,213.4" fill="none" stroke="#1c1c1c" stroke-width="1.45" />
<polyline points="842.0,222.9 858.3,222.9" fill="none" stroke="#1c1c1c" stroke-width="1.45" />
<polyline points="842.0,232.1 858.3,232.1 858.3,213.3" fill="none" stroke="#1c1c1c" stroke-width="1.45" />
<circle cx="882.2" cy="213.4" r="2.05" fill="#1c1c1c"/>
<polyline points="873.4,227.9 891.4,227.9" fill="none" stroke="#1c1c1c" stroke-width="1.55" />
<polyline points="876.6,230.4 888.2,230.4" fill="none" stroke="#1c1c1c" stroke-width="1.45" />
<polyline points="879.4,232.9 885.4,232.9" fill="none" stroke="#1c1c1c" stroke-width="1.4" />
<text font-size="10.3" transform="translate(845.3,178.0) scale(0.98,1)">27</text>
<text font-size="10.3" transform="translate(846.3,188.1) scale(0.98,1)">18</text>
<text font-size="10.3" transform="translate(845.3,203.1) scale(0.98,1)">4</text>
<text font-size="10.3" transform="translate(846.3,212.6) scale(0.98,1)">11</text>
<text font-size="10.3" transform="translate(846.3,221.9) scale(0.98,1)">12</text>
<text font-size="10.3" transform="translate(845.3,231.7) scale(0.98,1)">23</text>
<text font-size="10.3" transform="translate(929.0,138.9) scale(0.98,1)">+3V</text>
<polyline points="936.6,146.1 936.6,197.9" fill="none" stroke="#1c1c1c" stroke-width="1.45" />
<circle cx="936.6" cy="143.9" r="2.3" fill="#f5f5f5" stroke="#1c1c1c" stroke-width="1.3"/>
<circle cx="936.6" cy="180.4" r="2.05" fill="#1c1c1c"/>
<circle cx="936.6" cy="189.2" r="2.05" fill="#1c1c1c"/>
<circle cx="909.2" cy="180.3" r="2.05" fill="#1c1c1c"/>
<polyline points="909.2,180.3 909.2,197.8" fill="none" stroke="#1c1c1c" stroke-width="1.45" />
<polyline points="900.7,197.8 917.7,197.8" fill="none" stroke="#1c1c1c" stroke-width="1.6" />
<polyline points="900.7,201.1 917.7,201.1" fill="none" stroke="#1c1c1c" stroke-width="1.6" />
<polyline points="909.2,201.1 909.2,221.1" fill="none" stroke="#1c1c1c" stroke-width="1.45" />
<polyline points="900.5,221.1 918.0,221.1" fill="none" stroke="#1c1c1c" stroke-width="1.55" />
<polyline points="903.7,223.6 914.8,223.6" fill="none" stroke="#1c1c1c" stroke-width="1.45" />
<polyline points="906.5,226.1 912.0,226.1" fill="none" stroke="#1c1c1c" stroke-width="1.4" />
<polyline points="928.4,198.2 944.9,198.2" fill="none" stroke="#1c1c1c" stroke-width="1.6" />
<polyline points="928.4,201.5 944.9,201.5" fill="none" stroke="#1c1c1c" stroke-width="1.6" />
<polyline points="936.6,201.5 936.6,221.6" fill="none" stroke="#1c1c1c" stroke-width="1.45" />
<polyline points="927.9,221.6 945.4,221.6" fill="none" stroke="#1c1c1c" stroke-width="1.55" />
<polyline points="931.1,224.1 942.1,224.1" fill="none" stroke="#1c1c1c" stroke-width="1.45" />
<polyline points="933.9,226.6 939.4,226.6" fill="none" stroke="#1c1c1c" stroke-width="1.4" />
<polyline points="954.9,196.5 971.4,196.5" fill="none" stroke="#1c1c1c" stroke-width="1.6" />
<polyline points="954.9,199.8 971.4,199.8" fill="none" stroke="#1c1c1c" stroke-width="1.6" />
<polyline points="963.1,199.8 963.1,220.4" fill="none" stroke="#1c1c1c" stroke-width="1.45" />
<polyline points="954.4,220.4 971.9,220.4" fill="none" stroke="#1c1c1c" stroke-width="1.55" />
<polyline points="957.6,222.9 968.6,222.9" fill="none" stroke="#1c1c1c" stroke-width="1.45" />
<polyline points="960.4,225.4 965.9,225.4" fill="none" stroke="#1c1c1c" stroke-width="1.4" />
<text font-size="9.6" transform="translate(968.2,195.1) scale(0.98,1)">+</text>
<text font-size="10.3" transform="translate(912.2,210.1) scale(0.98,1)">C4</text>
<text font-size="10.3" transform="translate(939.1,210.1) scale(0.98,1)">C5</text>
<text font-size="10.3" transform="translate(967.9,210.1) scale(0.98,1)">C6</text>
<text font-size="10.3" x="912.0" y="218.9" textLength="23.5" lengthAdjust="spacingAndGlyphs">0.1<tspan font-size="8.4">µ</tspan>F</text>
<text font-size="10.3" x="938.0" y="218.9" textLength="23.5" lengthAdjust="spacingAndGlyphs">0.1<tspan font-size="8.4">µ</tspan>F</text>
<text font-size="10.3" x="967.4" y="218.9" textLength="23.5" lengthAdjust="spacingAndGlyphs">0.1<tspan font-size="8.4">µ</tspan>F</text>
<polyline points="842.0,277.7 885.4,277.8" fill="none" stroke="#1c1c1c" stroke-width="1.45" />
<text font-size="10.3" transform="translate(846.5,275.5) scale(0.98,1)">13</text>
<text font-size="10.3" x="863.3" y="275.5" textLength="44.0" lengthAdjust="spacingAndGlyphs">AUD OUT</text>
<polyline points="842.0,301.6 871.6,301.7 871.6,317.8" fill="none" stroke="#1c1c1c" stroke-width="1.45" />
<polyline points="863.2,317.9 880.8,317.9" fill="none" stroke="#1c1c1c" stroke-width="1.55" />
<polyline points="866.5,320.4 877.5,320.4" fill="none" stroke="#1c1c1c" stroke-width="1.45" />
<polyline points="869.2,322.9 874.8,322.9" fill="none" stroke="#1c1c1c" stroke-width="1.4" />
<text font-size="7" transform="translate(836.2,181.8) scale(0.98,1)">)</text>
<text font-size="7" transform="translate(836.2,205.3) scale(0.98,1)">)</text>
<text font-size="7" transform="translate(836.2,303.8) scale(0.98,1)">)</text>
<text font-size="7" transform="translate(836.8,190.8) scale(0.98,1)">,</text>
<text font-size="7" transform="translate(836.8,214.8) scale(0.98,1)">,</text>
<text font-size="7" transform="translate(836.8,223.8) scale(0.98,1)">,</text>
<text font-size="7" transform="translate(836.8,233.3) scale(0.98,1)">,</text>
<text font-size="10.3" transform="translate(124.6,402.3) scale(0.98,1)">+5V</text>
<polyline points="131.9,408.0 131.9,412.6 260.0,412.8 260.0,433.2" fill="none" stroke="#1c1c1c" stroke-width="1.45" />
<circle cx="131.9" cy="405.8" r="2.3" fill="#f5f5f5" stroke="#1c1c1c" stroke-width="1.3"/>
<rect x="148.4" y="409.6" width="23.2" height="6.1" fill="#f5f5f5" stroke="#1c1c1c" stroke-width="1.35"/>
<text font-size="10.3" transform="translate(148.2,407.3) scale(0.98,1)">R14</text>
<text font-size="10.3" transform="translate(150.2,425.4) scale(0.98,1)">1k<tspan font-size="8.4">Ω</tspan></text>
<circle cx="187.4" cy="412.7" r="2.05" fill="#1c1c1c"/>
<polyline points="187.4,412.7 187.4,467.8" fill="none" stroke="#1c1c1c" stroke-width="1.45" />
<rect x="184.4" y="426.5" width="6.3" height="22.6" fill="#f5f5f5" stroke="#1c1c1c" stroke-width="1.35"/>
<text font-size="10.3" transform="translate(193.1,439.0) scale(0.98,1)">R15</text>
<text font-size="10.3" transform="translate(191.4,449.5) scale(0.98,1)">10k<tspan font-size="8.4">Ω</tspan></text>
<polyline points="251.0,433.3 268.6,433.3" fill="none" stroke="#1c1c1c" stroke-width="1.6" />
<polyline points="251.0,437.0 268.6,437.0" fill="none" stroke="#1c1c1c" stroke-width="1.6" />
<polyline points="260.0,437.0 260.0,464.8" fill="none" stroke="#1c1c1c" stroke-width="1.45" />
<polyline points="250.8,464.9 269.2,464.9" fill="none" stroke="#1c1c1c" stroke-width="1.55" />
<polyline points="253.9,467.4 266.1,467.4" fill="none" stroke="#1c1c1c" stroke-width="1.45" />
<polyline points="256.8,469.9 263.2,469.9" fill="none" stroke="#1c1c1c" stroke-width="1.4" />
<text font-size="9.6" transform="translate(265.0,428.7) scale(0.98,1)">+</text>
<text font-size="10.3" transform="translate(269.9,434.5) scale(0.98,1)">C9</text>
<text font-size="10.3" transform="translate(269.6,444.1) scale(0.98,1)">22<tspan font-size="8.4">µ</tspan>F</text>
<polyline points="114.3,467.8 149.7,467.8" fill="none" stroke="#1c1c1c" stroke-width="1.45" />
<polyline points="152.8,467.8 206.8,467.8" fill="none" stroke="#1c1c1c" stroke-width="1.45" />
<polyline points="149.7,459.7 149.7,475.4" fill="none" stroke="#1c1c1c" stroke-width="1.6" />
<polyline points="152.8,459.7 152.8,475.4" fill="none" stroke="#1c1c1c" stroke-width="1.6" />
<circle cx="187.4" cy="467.8" r="2.05" fill="#1c1c1c"/>
<text font-size="10.3" x="105.5" y="464.3" textLength="40.5" lengthAdjust="spacingAndGlyphs">ANA IN+</text>
<text font-size="10.3" transform="translate(154.7,464.3) scale(0.98,1)">C8</text>
<text font-size="10.3" transform="translate(140.2,484.3) scale(0.98,1)">0.1<tspan font-size="8.4">µ</tspan>F</text>
<circle cx="214.8" cy="472.6" r="8.2" fill="#f5f5f5" stroke="#1c1c1c" stroke-width="1.5"/>
<polyline points="224.6,461.4 224.6,481.8" fill="none" stroke="#1c1c1c" stroke-width="2.0" />
<polyline points="208.0,476.6 186.0,476.6 186.0,585.3" fill="none" stroke="#1c1c1c" stroke-width="1.45" />
<text font-size="10.3" transform="translate(207.2,461.9) scale(0.98,1)">MIC</text>
<polyline points="114.3,495.8 149.7,495.8" fill="none" stroke="#1c1c1c" stroke-width="1.45" />
<polyline points="152.8,495.8 186.0,495.8" fill="none" stroke="#1c1c1c" stroke-width="1.45" />
<polyline points="149.7,487.8 149.7,503.5" fill="none" stroke="#1c1c1c" stroke-width="1.6" />
<polyline points="152.8,487.8 152.8,503.5" fill="none" stroke="#1c1c1c" stroke-width="1.6" />
<circle cx="186.0" cy="495.8" r="2.05" fill="#1c1c1c"/>
<text font-size="10.3" x="105.5" y="493.1" textLength="38.0" lengthAdjust="spacingAndGlyphs">ANA IN-</text>
<text font-size="10.3" transform="translate(154.7,493.1) scale(0.98,1)">C12</text>
<text font-size="10.3" transform="translate(140.2,513.1) scale(0.98,1)">0.1<tspan font-size="8.4">µ</tspan>F</text>
<rect x="182.4" y="529.6" width="6.6" height="22.6" fill="#f5f5f5" stroke="#1c1c1c" stroke-width="1.35"/>
<text font-size="10.3" transform="translate(192.4,538.7) scale(0.98,1)">R17</text>
<text font-size="10.3" transform="translate(191.6,549.3) scale(0.98,1)">10k<tspan font-size="8.4">Ω</tspan></text>
<polyline points="177.6,585.4 195.6,585.4" fill="none" stroke="#1c1c1c" stroke-width="1.55" />
<polyline points="180.8,587.9 192.4,587.9" fill="none" stroke="#1c1c1c" stroke-width="1.45" />
<polyline points="183.6,590.4 189.6,590.4" fill="none" stroke="#1c1c1c" stroke-width="1.4" />
<text font-size="10.3" transform="translate(500.4,354.6) scale(0.98,1)">+5V</text>
<polyline points="508.6,361.5 508.6,415.0" fill="none" stroke="#1c1c1c" stroke-width="1.45" />
<circle cx="508.6" cy="359.3" r="2.3" fill="#f5f5f5" stroke="#1c1c1c" stroke-width="1.3"/>
<circle cx="508.6" cy="369.6" r="1.6" fill="#1c1c1c"/>
<polyline points="508.6,369.6 564.3,369.7 564.3,385.2" fill="none" stroke="#1c1c1c" stroke-width="1.45" />
<polyline points="555.5,385.3 572.6,385.3" fill="none" stroke="#1c1c1c" stroke-width="1.6" />
<polyline points="555.5,389.6 572.6,389.6" fill="none" stroke="#1c1c1c" stroke-width="1.6" />
<polyline points="564.3,389.6 564.3,410.7" fill="none" stroke="#1c1c1c" stroke-width="1.45" />
<polyline points="555.1,410.8 573.6,410.8" fill="none" stroke="#1c1c1c" stroke-width="1.55" />
<polyline points="558.4,413.3 570.4,413.3" fill="none" stroke="#1c1c1c" stroke-width="1.45" />
<polyline points="561.1,415.8 567.6,415.8" fill="none" stroke="#1c1c1c" stroke-width="1.4" />
<text font-size="9.6" transform="translate(565.6,384.5) scale(0.98,1)">+</text>
<text font-size="10.3" transform="translate(575.1,386.7) scale(0.98,1)">C10</text>
<text font-size="10.3" transform="translate(574.4,396.3) scale(0.98,1)">47<tspan font-size="8.4">µ</tspan>F</text>
<text font-size="10.3" transform="translate(501.6,388.5) scale(0.98,1)">2</text>
<polyline points="463.5,560.9 463.5,390.3 538.0,390.3 538.0,560.9 463.5,560.9" fill="none" stroke="#1c1c1c" stroke-width="1.45" stroke-dasharray="9 3.2"/>
<polyline points="399.6,416.0 492.1,416.1" fill="none" stroke="#1c1c1c" stroke-width="1.45" />
<text font-size="10.3" x="399.6" y="414.3" textLength="45.0" lengthAdjust="spacingAndGlyphs">AUD OUT</text>
<text font-size="10.3" transform="translate(457.0,414.3) scale(0.98,1)">7</text>
<polyline points="447.2,416.0 447.2,515.6" fill="none" stroke="#1c1c1c" stroke-width="1.45" />
<rect x="444.3" y="430.8" width="6.3" height="22.6" fill="#f5f5f5" stroke="#1c1c1c" stroke-width="1.35"/>
<text font-size="10.3" transform="translate(425.1,442.3) scale(0.98,1)">R16</text>
<text font-size="10.3" transform="translate(421.4,451.5) scale(0.98,1)">10k<tspan font-size="8.4">Ω</tspan></text>
<circle cx="447.2" cy="504.0" r="2.05" fill="#1c1c1c"/>
<polyline points="438.4,515.7 455.9,515.7" fill="none" stroke="#1c1c1c" stroke-width="1.55" />
<polyline points="441.6,518.2 452.8,518.2" fill="none" stroke="#1c1c1c" stroke-width="1.45" />
<polyline points="444.4,520.7 449.9,520.7" fill="none" stroke="#1c1c1c" stroke-width="1.4" />
<polyline points="447.2,504.0 491.6,504.3" fill="none" stroke="#1c1c1c" stroke-width="1.45" />
<text font-size="10.3" transform="translate(455.2,501.2) scale(0.98,1)">6</text>
<polyline points="508.4,432.6 508.4,456.8" fill="none" stroke="#1c1c1c" stroke-width="1.45" />
<polyline points="508.0,480.2 508.0,505.0" fill="none" stroke="#1c1c1c" stroke-width="1.45" />
<polyline points="507.8,520.5 507.4,595.4" fill="none" stroke="#1c1c1c" stroke-width="1.45" />
<polyline points="498.6,595.5 516.0,595.5" fill="none" stroke="#1c1c1c" stroke-width="1.55" />
<polyline points="501.8,598.0 512.8,598.0" fill="none" stroke="#1c1c1c" stroke-width="1.45" />
<polyline points="504.6,600.5 510.0,600.5" fill="none" stroke="#1c1c1c" stroke-width="1.4" />
<polygon points="492.1,409.6 492.1,439.2 522.2,424.8" fill="#f5f5f5" stroke="#1c1c1c" stroke-width="1.5"/>
<text font-size="10" transform="translate(493.6,421.5) scale(0.98,1)">+</text>
<text font-size="10" transform="translate(493.6,436.3) scale(0.98,1)">−</text>
<polyline points="522.2,424.8 678.4,425.8 678.4,461.9 693.7,461.9" fill="none" stroke="#1c1c1c" stroke-width="1.45" />
<text font-size="10.3" transform="translate(516.7,414.3) scale(0.98,1)">AR1</text>
<polyline points="492.1,432.8 472.0,432.8 472.0,468.6 554.3,468.8 554.3,484.4" fill="none" stroke="#1c1c1c" stroke-width="1.45" />
<text font-size="10.3" transform="translate(545.0,465.7) scale(0.98,1)">8</text>
<polyline points="546.0,484.5 561.8,484.5" fill="none" stroke="#1c1c1c" stroke-width="1.6" />
<polyline points="546.0,488.8 561.8,488.8" fill="none" stroke="#1c1c1c" stroke-width="1.6" />
<polyline points="554.3,488.8 554.3,531.5" fill="none" stroke="#1c1c1c" stroke-width="1.45" />
<polyline points="546.0,531.5 561.8,531.5" fill="none" stroke="#1c1c1c" stroke-width="1.6" />
<polyline points="546.0,535.8 561.8,535.8" fill="none" stroke="#1c1c1c" stroke-width="1.6" />
<polyline points="554.3,535.8 554.3,552.8 470.3,552.6 470.3,520.7 491.6,520.7" fill="none" stroke="#1c1c1c" stroke-width="1.45" />
<text font-size="9.6" transform="translate(555.6,484.3) scale(0.98,1)">+</text>
<text font-size="10.3" transform="translate(564.3,485.4) scale(0.98,1)">C11</text>
<text font-size="10.3" transform="translate(564.8,494.7) scale(0.98,1)">10<tspan font-size="8.4">µ</tspan>F</text>
<text font-size="9.6" transform="translate(555.6,530.9) scale(0.98,1)">+</text>
<text font-size="10.3" transform="translate(564.3,532.5) scale(0.98,1)">C13</text>
<text font-size="10.3" transform="translate(564.8,541.8) scale(0.98,1)">10nF</text>
<text font-size="10.3" transform="translate(517.4,491.5) scale(0.98,1)">AR2</text>
<polygon points="491.6,498.0 491.6,527.8 521.7,512.7" fill="#f5f5f5" stroke="#1c1c1c" stroke-width="1.5"/>
<text font-size="7" transform="translate(494.0,507.9) scale(0.98,1)" fill="#555">+</text>
<text font-size="10" transform="translate(493.4,524.3) scale(0.98,1)">−</text>
<polyline points="521.7,512.7 678.4,513.6 678.4,471.0 693.7,471.0" fill="none" stroke="#1c1c1c" stroke-width="1.45" />
<text font-size="10.3" transform="translate(544.2,511.2) scale(0.98,1)">3</text>
<text font-size="10.3" transform="translate(542.5,550.6) scale(0.98,1)">5</text>
<text font-size="10.3" transform="translate(499.9,572.7) scale(0.98,1)">4</text>
<text font-size="10.3" x="510.4" y="572.7" textLength="41.5" lengthAdjust="spacingAndGlyphs">TDA2822</text>
<polyline points="638.2,425.6 638.0,579.9" fill="none" stroke="#1c1c1c" stroke-width="1.45" />
<polyline points="606.2,513.2 606.2,579.9" fill="none" stroke="#1c1c1c" stroke-width="1.45" />
<circle cx="606.2" cy="513.2" r="2.05" fill="#1c1c1c"/>
<circle cx="638.1" cy="513.4" r="2.05" fill="#1c1c1c"/>
<rect x="602.8" y="528.2" width="6.7" height="22.2" fill="#f5f5f5" stroke="#1c1c1c" stroke-width="1.35"/>
<rect x="634.7" y="528.2" width="6.7" height="22.2" fill="#f5f5f5" stroke="#1c1c1c" stroke-width="1.35"/>
<text font-size="10.3" transform="translate(612.0,539.3) scale(0.98,1)">R18</text>
<text font-size="10.3" transform="translate(610.7,548.8) scale(0.98,1)">4.7<tspan font-size="8.4">Ω</tspan></text>
<text font-size="10.3" transform="translate(644.0,539.3) scale(0.98,1)">R19</text>
<text font-size="10.3" transform="translate(642.7,548.8) scale(0.98,1)">4.7<tspan font-size="8.4">Ω</tspan></text>
<polyline points="598.0,579.9 614.4,579.9" fill="none" stroke="#1c1c1c" stroke-width="1.6" />
<polyline points="598.0,584.1 614.4,584.1" fill="none" stroke="#1c1c1c" stroke-width="1.6" />
<polyline points="629.8,579.9 646.2,579.9" fill="none" stroke="#1c1c1c" stroke-width="1.6" />
<polyline points="629.8,584.1 646.2,584.1" fill="none" stroke="#1c1c1c" stroke-width="1.6" />
<polyline points="606.2,584.1 606.2,602.0" fill="none" stroke="#1c1c1c" stroke-width="1.45" />
<polyline points="638.0,584.1 638.0,593.3 606.2,593.3" fill="none" stroke="#1c1c1c" stroke-width="1.45" />
<circle cx="606.2" cy="593.3" r="2.05" fill="#1c1c1c"/>
<polyline points="597.1,602.2 615.6,602.2" fill="none" stroke="#1c1c1c" stroke-width="1.55" />
<polyline points="600.4,604.7 612.4,604.7" fill="none" stroke="#1c1c1c" stroke-width="1.45" />
<polyline points="603.1,607.2 609.6,607.2" fill="none" stroke="#1c1c1c" stroke-width="1.4" />
<text font-size="10.3" transform="translate(575.7,581.9) scale(0.98,1)">C14</text>
<text font-size="10.3" x="575.7" y="591.2" textLength="19.0" lengthAdjust="spacingAndGlyphs">0.1 F</text>
<text font-size="10.3" transform="translate(647.6,582.8) scale(0.98,1)">C15</text>
<text font-size="10.3" transform="translate(647.6,591.8) scale(0.98,1)">0.1F</text>
<rect x="693.7" y="460.9" width="10.5" height="11.8" fill="#f5f5f5" stroke="#1c1c1c" stroke-width="1.35"/>
<polyline points="704.2,460.9 712.2,455.6 712.2,479.2 704.2,472.7" fill="none" stroke="#1c1c1c" stroke-width="1.5" />
<text font-size="9.6" x="684.6" y="453.1" textLength="29.0" lengthAdjust="spacingAndGlyphs" style='font-family:"Liberation Serif","Noto Serif CJK SC",serif'>扬声器</text>
<text font-size="17.6" x="388.5" y="638.5" textLength="30.0" lengthAdjust="spacingAndGlyphs" style='font-family:"Liberation Sans","Noto Sans CJK SC",sans-serif;stroke-width:0.15px' fill="#222">图 7</text>
<text font-size="17.6" x="438.6" y="638.5" textLength="166.0" lengthAdjust="spacingAndGlyphs" style='font-family:"Liberation Sans","Noto Sans CJK SC",sans-serif;stroke-width:0.15px' fill="#222">循环录放电路原理图</text>
</g>
</svg>
</body>
</html>
